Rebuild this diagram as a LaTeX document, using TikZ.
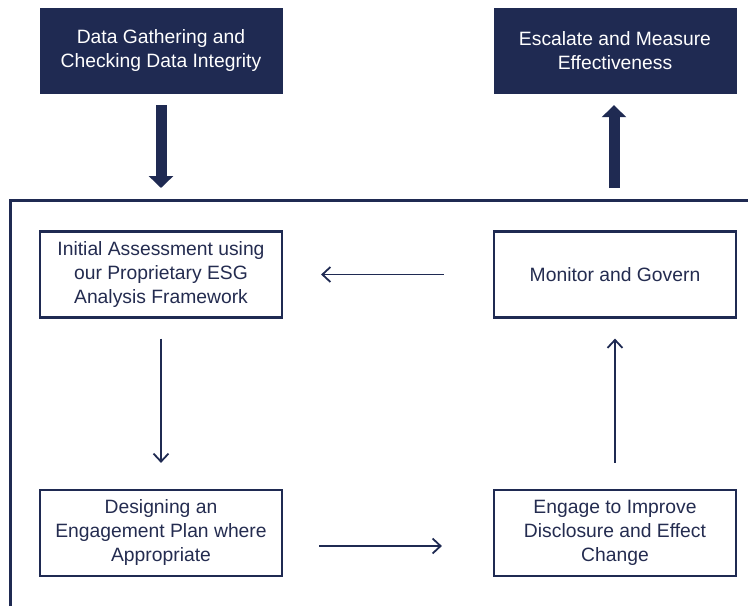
\documentclass[tikz,border=0pt]{standalone}
\usepackage{fontspec}
\setmainfont{Liberation Sans}
\usetikzlibrary{arrows.meta}
\definecolor{navy}{RGB}{31,42,82}
\definecolor{txt}{RGB}{36,44,80}
\tikzset{
  darkbox/.style={rectangle, fill=navy, draw=navy, minimum width=242pt, minimum height=85pt, text=white, align=center, font=\fontsize{19.3}{24}\selectfont, inner sep=0pt},
  whitebox/.style={rectangle, draw=navy, line width=2.2pt, fill=white, minimum width=242pt, minimum height=86pt, text=txt, align=center, font=\fontsize{19.3}{24}\selectfont, inner sep=0pt},
  bigarrow/.style={draw=navy, line width=11pt, -{Triangle[length=12pt 0 0, width=24pt 0 0]}},
  thinarrow/.style={draw=navy, line width=1.8pt, -{Straight Barb[length=8pt 0 0, width=15pt 0 0]}},
  frameline/.style={draw=navy, line width=3pt}
}
\begin{document}
\begin{tikzpicture}[x=1pt, y=-1pt]
\useasboundingbox (0,0) rectangle (748,606);
\node[darkbox] (tl) at (161,50.5) {Data Gathering and\\Checking Data Integrity};
\node[darkbox] (tr) at (615,50.5) {Escalate and Measure\\Effectiveness};
\coordinate (fl) at (161,200);
\coordinate (fr) at (614,200);
\coordinate (fc) at (10,200);
\coordinate (fb) at (10,606);
\coordinate (fe) at (748,200);
\draw[frameline] (fb) -- (fc) -- (fe);
\node[whitebox] (b1) at (161,274.5) {Initial Assessment using\\our Proprietary ESG\\Analysis Framework};
\node[whitebox] (mon) at (615,274.5) {Monitor and Govern};
\node[whitebox] (b3) at (161,533) {Designing an\\Engagement Plan where\\Appropriate};
\node[whitebox] (b4) at (615,533) {Engage to Improve\\Disclosure and Effect\\Change};
\draw[bigarrow] ([yshift=-12pt]tl.south) -- ([yshift=12pt]fl);
\draw[bigarrow] ([yshift=12pt]fr) -- ([yshift=-12pt,xshift=-1pt]tr.south);
\draw[thinarrow] ([xshift=-49pt]mon.west) -- ([xshift=38pt]b1.east);
\draw[thinarrow] ([yshift=-20pt]b1.south) -- ([yshift=26pt]b3.north);
\draw[thinarrow] ([xshift=36pt,yshift=-13pt]b3.east) -- ([xshift=-51pt,yshift=-13pt]b4.west);
\draw[thinarrow] ([yshift=26pt]b4.north) -- ([yshift=-20pt]mon.south);
\end{tikzpicture}
\end{document}
